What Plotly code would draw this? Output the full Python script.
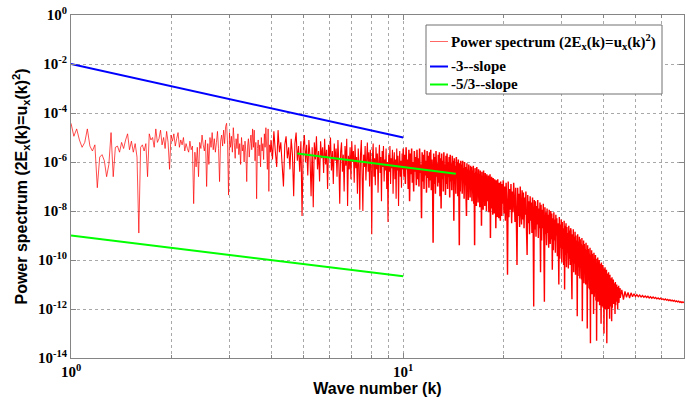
import numpy as np
import plotly.graph_objects as go

# ---------------- data ----------------
# Power spectrum, stored as log10 values on regular wavenumber segments
seg_a_start, seg_a_step = 1.0, 0.02
seg_a_log10 = [
    -4.42, -4.95, -4.65, -5.10, -5.40, -5.20, -4.65, -5.35, -5.55, -5.30,
    -7.05, -5.80, -5.70, -5.95, -6.60, -6.10, -4.80, -6.60, -5.40, -5.35,
    -5.60, -5.20, -5.45, -5.10, -4.85, -5.50, -5.15, -5.60, -5.25, -5.80,
    -8.90, -5.40, -5.30, -5.55, -5.25, -6.60, -4.85, -5.10, -5.00, -5.40,
    -4.65, -5.20, -5.05, -4.70, -5.30, -5.00, -5.45, -4.75, -5.20, -6.30,
    -4.90, -5.15, -4.85, -5.35, -5.05, -4.80, -5.40, -5.10, -5.30, -5.00,
    -5.55, -5.25, -5.45, -5.60, -5.15, -5.50, -5.35, -7.70, -5.60, -6.20,
    -5.40, -6.60, -5.20, -5.45, -4.90, -5.30, -5.55, -5.10, -7.00, -5.25,
    -6.10, -5.00, -5.40, -4.80, -5.50, -5.05, -5.60, -5.20, -4.75, -5.45,
    -6.80, -5.15, -4.90, -5.35, -4.70, -5.25, -4.55, -4.42, -5.30, -7.35,
    -4.80, -5.40, -4.95, -5.60, -4.60, -5.20, -5.85, -5.05, -5.45, -4.85,
    -5.70, -5.25, -6.10, -5.00, -5.55, -5.30, -6.00, -5.15, -5.60, -6.80,
    -5.35, -5.05, -5.80, -5.25, -4.90, -5.50, -4.65, -5.40, -4.70, -5.95,
    -5.20, -7.50, -5.45, -5.10, -5.75, -5.30, -6.20, -5.00, -5.55, -5.25,
    -5.90, -4.85, -5.40, -4.60, -5.35, -6.30, -4.65, -7.20, -5.30, -5.60,
]
seg_b_start, seg_b_step = 4.0, 0.04
seg_b_log10 = [
    -5.10, -5.90, -4.75, -5.55, -6.20, -4.70, -5.60, -5.20, -6.10, -7.00,
    -5.30, -4.95, -5.85, -5.40, -6.30, -5.05, -5.70, -7.40, -5.25, -4.80,
    -5.95, -5.35, -6.40, -5.15, -8.20,
    -5.45, -4.90, -6.00, -5.30, -6.55, -5.10, -5.75, -7.40, -5.40, -7.85,
    -5.20, -5.90, -4.95, -6.30, -5.55, -6.80, -5.15, -5.85, -5.40, -6.45,
    -5.05, -6.10, -5.50, -7.10, -5.30,
    -5.80, -5.00, -6.35, -5.55, -6.90, -5.25, -5.95, -5.45, -6.60, -5.10,
    -6.05, -7.70, -5.60, -5.20, -6.40, -5.70, -7.20, -5.35, -6.15, -5.05,
    -7.80, -5.75, -6.30, -5.40, -6.70,
    -5.15, -6.00, -5.55, -6.85, -5.30, -6.25, -5.80, -7.30, -5.45, -6.10,
    -7.95, -5.65, -5.10, -6.50, -8.00, -5.70, -6.20, -5.35, -6.75, -5.90,
    -5.20, -6.40, -5.60, -7.00, -5.50,
    -6.15, -8.95, -5.75, -5.25, -6.60, -5.85, -6.95, -5.40, -6.30, -5.65,
    -7.25, -5.95, -5.30, -6.45, -5.80, -7.60, -5.55, -6.20, -5.35, -6.80,
    -5.90, -6.35, -5.45, -7.10, -6.00,
    -8.45, -5.70, -6.40, -5.35, -6.90, -5.85, -6.25, -5.50, -7.30, -6.05,
    -5.60, -6.70, -5.90, -7.50, -5.45, -6.35, -5.75, -7.80, -6.10, -5.55,
    -6.60, -5.95, -7.05, -5.65, -6.30,
]
seg_c_start, seg_c_step = 10.0, 0.05
seg_c_log10 = [
    -5.45, -6.60, -5.70, -6.90, -5.40, -6.30, -5.90, -7.10, -5.50, -7.60,
    -5.65, -6.50, -5.45, -6.85, -6.00, -7.20, -5.55, -6.40, -5.80, -6.95,
    -5.50, -6.70, -5.85, -7.00, -5.45, -6.45, -6.10, -8.30, -5.60, -6.80,
    -5.70, -7.10, -5.50, -6.55, -5.95, -7.25, -5.55, -6.65, -5.75, -7.05,
    -5.60, -6.75, -5.50, -7.15, -5.90, -6.50, -9.30, -5.65, -6.90, -5.80,
    -7.30, -5.55, -6.60, -6.05, -7.00, -5.70, -6.85, -5.60, -7.40, -5.85,
    -7.90, -5.65, -6.70, -5.95, -7.20, -5.60, -6.55, -6.10, -7.35, -5.75,
    -6.90, -5.65, -7.10, -6.00, -6.60, -5.80, -7.45, -5.70, -6.80, -6.05,
    -7.15, -5.75, -6.75, -5.95, -8.40, -5.85, -6.90, -6.15, -7.30, -5.80,
    -6.65, -6.00, -7.40, -5.90, -6.85, -9.40, -6.05, -7.20, -5.95, -6.70,
    -6.10, -7.30, -5.95, -6.80, -6.25, -7.50, -6.00, -6.95, -6.20, -7.25,
    -8.20, -6.05, -7.05, -6.30, -7.55, -6.10, -6.85, -6.35, -7.45, -6.15,
    -7.15, -6.20, -7.60, -6.35, -6.95, -6.15, -7.70, -6.45, -9.40, -6.25,
    -7.25, -6.40, -7.80, -6.20, -7.05, -6.55, -7.65, -6.30, -7.40, -6.50,
    -7.85, -6.35, -7.20, -6.55, -8.60, -6.40, -7.50, -6.60, -7.95, -6.35,
    -7.30, -6.65, -7.80, -6.45, -7.10, -6.70, -8.00, -6.50, -7.60, -6.75,
    -7.45, -6.55, -8.05, -6.70, -7.35, -6.50, -9.10, -6.75, -7.90, -6.60,
    -7.65, -6.85, -8.15, -6.65, -7.40, -6.90, -8.10, -6.70, -7.70, -6.95,
    -8.70, -6.75, -7.85, -6.95, -8.25, -6.70, -7.60, -7.00, -8.30, -6.85,
    -7.75, -7.05, -8.40, -6.80, -7.95, -7.10, -8.20, -6.90, -7.70, -7.15,
]
seg_d_start, seg_d_step = 20.0, 0.1
seg_d_log10 = [
    -6.75, -8.10, -7.00, -8.40, -6.85, -7.70, -10.60, -6.80, -8.25, -7.10,
    -7.95, -6.90, -8.50, -7.20, -8.05, -6.85, -7.60, -8.45, -7.05, -8.30,
    -10.20, -7.05, -8.20, -7.30, -8.65, -7.00, -7.90, -8.55, -7.15, -8.35,
    -7.25, -8.70, -7.45, -8.15, -7.20, -8.80, -9.80, -7.35, -8.50, -7.60,
    -8.95, -7.40, -8.40, -7.65, -8.90, -7.45, -8.20, -11.90, -7.55, -8.75,
    -7.60, -9.05, -7.80, -8.55, -7.55, -9.10, -7.90, -8.70, -7.65, -10.50,
    -7.75, -9.20, -7.95, -8.70, -7.70, -9.30, -11.70, -7.85, -8.95, -8.05,
    -9.40, -7.90, -8.90, -8.15, -9.50, -7.95, -8.70, -9.35, -8.00, -9.15,
    -8.10, -10.40, -8.30, -9.60, -8.05, -9.20, -8.35, -9.70, -8.15, -9.00,
    -8.30, -9.85, -8.50, -9.30, -11.00, -8.25, -9.95, -8.55, -9.50, -8.35,
    -10.10, -8.45, -9.55, -8.70, -10.20, -8.40, -11.20, -8.60, -9.80, -8.50,
    -10.30, -8.65, -9.70, -8.90, -10.35, -8.60, -9.95, -8.80, -10.20, -8.70,
    -8.80, -10.45, -11.60, -8.95, -9.90, -8.75, -10.50, -9.05, -10.15, -8.85,
    -10.60, -9.00, -10.10, -9.20, -12.30, -8.95, -10.65, -9.25, -10.30, -9.05,
    -10.75, -9.15, -10.30, -9.35, -10.80, -9.10, -12.50, -9.40, -10.50, -9.20,
    -10.95, -9.35, -10.50, -9.55, -11.00, -9.30, -10.70, -9.60, -12.80, -9.40,
    -11.15, -9.55, -10.70, -9.75, -11.20, -9.50, -13.40, -9.80, -10.90, -9.60,
    -11.40, -9.75, -10.95, -9.95, -12.20, -9.70, -11.50, -10.00, -11.10, -9.80,
    -11.65, -9.95, -13.30, -10.15, -11.20, -9.90, -11.70, -10.20, -11.35, -10.00,
    -11.85, -10.15, -11.40, -10.35, -12.60, -10.10, -11.90, -10.40, -11.55, -10.20,
    -11.95, -10.35, -13.00, -10.55, -11.60, -10.30, -12.00, -10.60, -11.75, -10.40,
    -13.40, -10.55, -11.80, -10.75, -12.00, -10.50, -11.65, -10.80, -12.40, -10.60,
    -11.90, -10.75, -11.50, -10.90, -12.50, -10.70, -11.95, -10.95, -11.60, -10.80,
    -11.80, -10.95, -11.55, -11.05, -12.20, -10.90, -11.85, -11.10, -11.50, -11.00,
    -11.70, -11.10, -12.00, -11.20, -11.65, -11.05, -11.75, -11.25, -11.55, -11.15,
]
seg_e_start, seg_e_step = 45.0, 0.5
seg_e_log10 = [
    -11.55, -11.22, -11.62, -11.28, -11.52, -11.32, -11.55, -11.34, -11.50, -11.38,
    -11.49, -11.41, -11.50, -11.43, -11.51, -11.45, -11.52, -11.47, -11.53, -11.48,
    -11.55, -11.50, -11.56, -11.51, -11.57, -11.53, -11.59, -11.55, -11.60, -11.56,
    -11.61, -11.58, -11.63, -11.59, -11.64, -11.61, -11.66, -11.62, -11.67, -11.64,
    -11.68, -11.65, -11.70, -11.67, -11.71, -11.68, -11.73, -11.70, -11.74, -11.71, -11.75,
]

# Reference slope lines
slope3_k = [1, 10]
slope3_val = [1e-2, 1e-5]
slope53_low_k = [1, 10]
slope53_low_val = [1e-9, 2.15e-11]
slope53_high_k = [4.8, 14.4]
slope53_high_val = [2.2e-6, 3.3e-7]

x_range = [1, 70]
y_tick_vals = [1e0, 1e-2, 1e-4, 1e-6, 1e-8, 1e-10, 1e-12, 1e-14]
y_tick_text = ["10<sup>0</sup>", "10<sup>-2</sup>", "10<sup>-4</sup>", "10<sup>-6</sup>",
               "10<sup>-8</sup>", "10<sup>-10</sup>", "10<sup>-12</sup>", "10<sup>-14</sup>"]
x_tick_vals = [1, 10]
x_tick_text = ["10<sup>0</sup>", "10<sup>1</sup>"]
x_minor_vals = [2, 3, 4, 5, 6, 7, 8, 9, 20, 30, 40, 50, 60]

legend_labels = ["Power spectrum (2E<sub>x</sub>(k)=u<sub>x</sub>(k)<sup>2</sup>)",
                 "-3--slope", "-5/3--slope"]
legend_colors = ["#ff0000", "#0000ff", "#00ff00"]
legend_widths = [0.6, 2, 2]

# ---------------- build series ----------------
def seg_k(start, step, vals):
    return start + step * np.arange(len(vals))

# the densely sampled part of the spectrum renders as a solid band: draw each
# sampling segment with its own stroke width, joined to the previous segment
segments = [(seg_a_start, seg_a_step, seg_a_log10, 0.7),
            (seg_b_start, seg_b_step, seg_b_log10, 1.1),
            (seg_c_start, seg_c_step, seg_c_log10, 1.5),
            (seg_d_start, seg_d_step, seg_d_log10, 1.4),
            (seg_e_start, seg_e_step, seg_e_log10, 1.3)]

W, H = 696, 401
ML, MR, MT, MB = 71, 12, 15, 43
PW, PH = W - ML - MR, H - MT - MB

def px(xp):
    return (xp - ML) / PW

def py(yp):
    return (H - MB - yp) / PH

fig = go.Figure()
prev_k, prev_v = None, None
for start, step, vals, lw in segments:
    ks = seg_k(start, step, vals)
    vs = 10.0 ** np.array(vals, dtype=float)
    if prev_k is not None:
        ks = np.concatenate([[prev_k], ks])
        vs = np.concatenate([[prev_v], vs])
    fig.add_trace(go.Scatter(x=ks, y=vs, mode="lines",
                             line=dict(color="#ff0000", width=lw, simplify=False),
                             showlegend=False, name="Power spectrum"))
    prev_k, prev_v = ks[-1], vs[-1]

fig.add_trace(go.Scatter(x=slope3_k, y=slope3_val, mode="lines", line=dict(color="#0000ff", width=2),
                         showlegend=False))
fig.add_trace(go.Scatter(x=slope53_low_k, y=slope53_low_val, mode="lines", line=dict(color="#00ff00", width=2),
                         showlegend=False))
fig.add_trace(go.Scatter(x=slope53_high_k, y=slope53_high_val, mode="lines", line=dict(color="#00ff00", width=2),
                         showlegend=False))

tick_font = dict(family="Liberation Serif", size=15, color="black", weight="bold")
title_font = dict(family="Liberation Sans", size=16, color="black", weight="bold")
grid_col = "#a8a8a8"
axis_col = "#858585"

fig.update_xaxes(type="log", range=[np.log10(x_range[0]), np.log10(x_range[1])],
                 tickvals=x_tick_vals, ticktext=x_tick_text, tickfont=tick_font,
                 showgrid=True, gridcolor=grid_col, griddash="dot", gridwidth=1,
                 showline=True, linecolor=axis_col, linewidth=1, mirror="ticks",
                 ticks="inside", ticklen=5, tickcolor=axis_col,
                 minor=dict(tickvals=x_minor_vals, showgrid=True, gridcolor=grid_col, griddash="dot",
                            gridwidth=1, ticks="inside", ticklen=3, tickcolor=axis_col),
                 zeroline=False,
                 title=dict(text="Wave number (k)", font=title_font, standoff=2))
fig.update_yaxes(type="log", range=[-14, 0],
                 tickvals=y_tick_vals, ticktext=y_tick_text, tickfont=tick_font,
                 showgrid=True, gridcolor=grid_col, griddash="dot", gridwidth=1,
                 showline=True, linecolor=axis_col, linewidth=1, mirror="ticks",
                 ticks="inside", ticklen=5, tickcolor=axis_col, zeroline=False,
                 title=dict(text="Power spectrum (2E<sub>x</sub>(k)=u<sub>x</sub>(k)<sup>2</sup>)",
                            font=title_font, standoff=6))

# legend box (drawn manually to match the reference layout)
shapes = [dict(type="rect", xref="paper", yref="paper", x0=px(426), x1=px(662), y0=py(94), y1=py(25),
               line=dict(color="#707070", width=1), fillcolor="white", layer="above")]
row_y = [41.5, 66.5, 84.5]
annotations = []
for lab, col, lw, ry in zip(legend_labels, legend_colors, legend_widths, row_y):
    shapes.append(dict(type="line", xref="paper", yref="paper", x0=px(430), x1=px(448), y0=py(ry), y1=py(ry),
                       line=dict(color=col, width=lw), layer="above"))
    annotations.append(dict(xref="paper", yref="paper", x=px(449), y=py(ry), text=lab, showarrow=False,
                            xanchor="left", yanchor="middle",
                            font=dict(family="Liberation Serif", size=15, color="black", weight="bold")))

fig.update_layout(width=W, height=H, margin=dict(l=ML, r=MR, t=MT, b=MB, autoexpand=False),
                  plot_bgcolor="white", paper_bgcolor="white", showlegend=False,
                  shapes=shapes, annotations=annotations)

fig.write_html("out.html")
